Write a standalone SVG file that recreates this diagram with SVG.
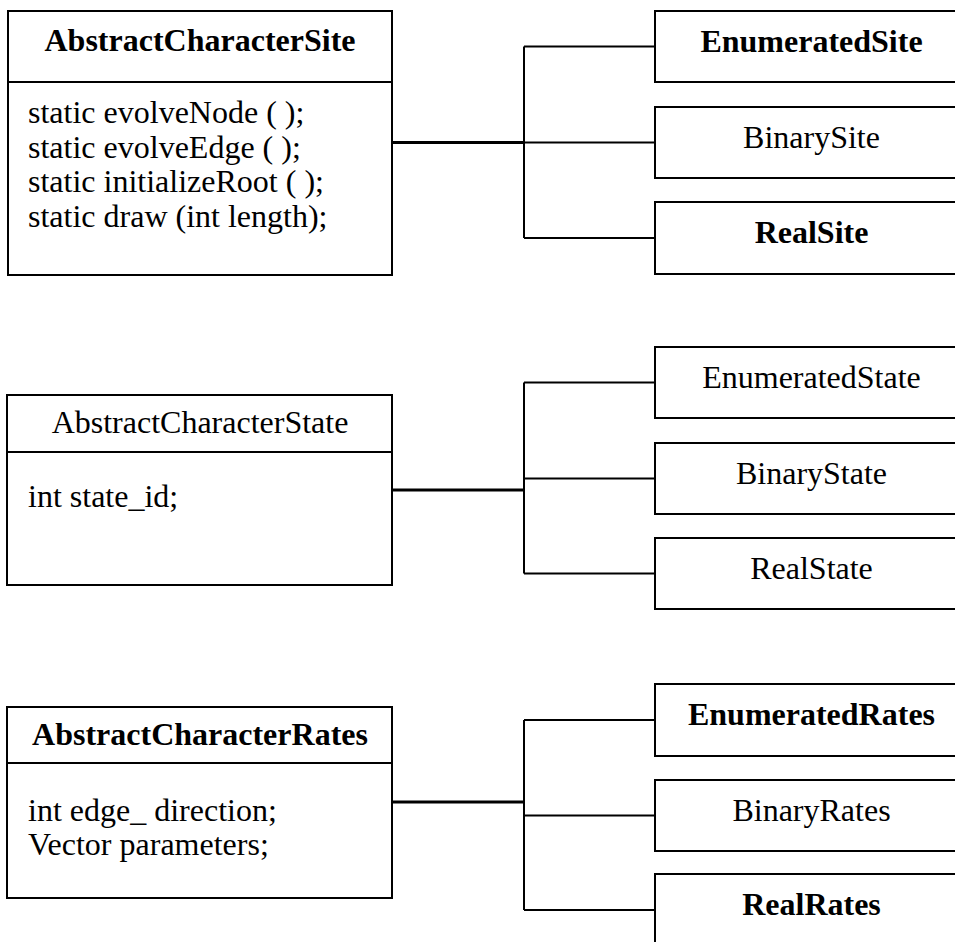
<svg xmlns="http://www.w3.org/2000/svg" width="955" height="942" viewBox="0 0 955 942">
<style>
rect{fill:#fff;stroke:#000;stroke-width:2}
.div{stroke:#000;stroke-width:2}
text{font-family:"Liberation Serif","Times New Roman",serif;font-size:32px;fill:#000}
.b{font-weight:bold}
.c{text-anchor:middle}
.main{stroke:#000;stroke-width:3;fill:none}
.br{stroke:#000;stroke-width:2;fill:none}
</style>
<rect x="0" y="0" width="955" height="942" style="stroke:none;fill:#fff"/>
<g id="connectors">
<line class="main" x1="392" y1="142.5" x2="524" y2="142.5"/>
<line class="br" x1="524" y1="46.5" x2="524" y2="238"/>
<line class="br" x1="524" y1="46.5" x2="655" y2="46.5"/>
<line class="br" x1="524" y1="142.5" x2="655" y2="142.5"/>
<line class="br" x1="524" y1="238" x2="655" y2="238"/>
<line class="main" x1="392" y1="490" x2="524" y2="490"/>
<line class="br" x1="524" y1="382.5" x2="524" y2="573.5"/>
<line class="br" x1="524" y1="382.5" x2="655" y2="382.5"/>
<line class="br" x1="524" y1="478.5" x2="655" y2="478.5"/>
<line class="br" x1="524" y1="573.5" x2="655" y2="573.5"/>
<line class="main" x1="392" y1="802" x2="524" y2="802"/>
<line class="br" x1="524" y1="720" x2="524" y2="910"/>
<line class="br" x1="524" y1="720" x2="655" y2="720"/>
<line class="br" x1="524" y1="815.5" x2="655" y2="815.5"/>
<line class="br" x1="524" y1="910" x2="655" y2="910"/>
</g>
<g id="AbstractCharacterSite">
<rect x="8" y="11" width="384" height="264"/>
<line class="div" x1="8" y1="82" x2="392" y2="82"/>
<text class="b c" x="200" y="51">AbstractCharacterSite</text>
<text x="28" y="123">static evolveNode ( );</text>
<text x="28" y="157.5">static evolveEdge ( );</text>
<text x="28" y="192">static initializeRoot ( );</text>
<text x="28" y="226.5">static draw (int length);</text>
</g>
<g id="EnumeratedSite">
<rect x="655" y="11" width="313" height="71"/>
<text class="b c" x="811.5" y="52">EnumeratedSite</text>
</g>
<g id="BinarySite">
<rect x="655" y="107" width="313" height="71"/>
<text class="c" x="811.5" y="148">BinarySite</text>
</g>
<g id="RealSite">
<rect x="655" y="202" width="313" height="72"/>
<text class="b c" x="811.5" y="243">RealSite</text>
</g>
<g id="AbstractCharacterState">
<rect x="7" y="395" width="385" height="190"/>
<line class="div" x1="7" y1="452" x2="392" y2="452"/>
<text class="c" x="200" y="433">AbstractCharacterState</text>
<text x="28" y="507">int state_id;</text>
</g>
<g id="EnumeratedState">
<rect x="655" y="347" width="313" height="71"/>
<text class="c" x="811.5" y="388">EnumeratedState</text>
</g>
<g id="BinaryState">
<rect x="655" y="443" width="313" height="71"/>
<text class="c" x="811.5" y="484">BinaryState</text>
</g>
<g id="RealState">
<rect x="655" y="538" width="313" height="71"/>
<text class="c" x="811.5" y="579">RealState</text>
</g>
<g id="AbstractCharacterRates">
<rect x="7" y="707" width="385" height="191"/>
<line class="div" x1="7" y1="763" x2="392" y2="763"/>
<text class="b c" x="200" y="745">AbstractCharacterRates</text>
<text x="28" y="821">int edge_ direction;</text>
<text x="28" y="855">Vector parameters;</text>
</g>
<g id="EnumeratedRates">
<rect x="655" y="684" width="313" height="72"/>
<text class="b c" x="811.5" y="725">EnumeratedRates</text>
</g>
<g id="BinaryRates">
<rect x="655" y="780" width="313" height="71"/>
<text class="c" x="811.5" y="821">BinaryRates</text>
</g>
<g id="RealRates">
<rect x="655" y="874" width="313" height="90"/>
<text class="b c" x="811.5" y="915">RealRates</text>
</g>
</svg>
